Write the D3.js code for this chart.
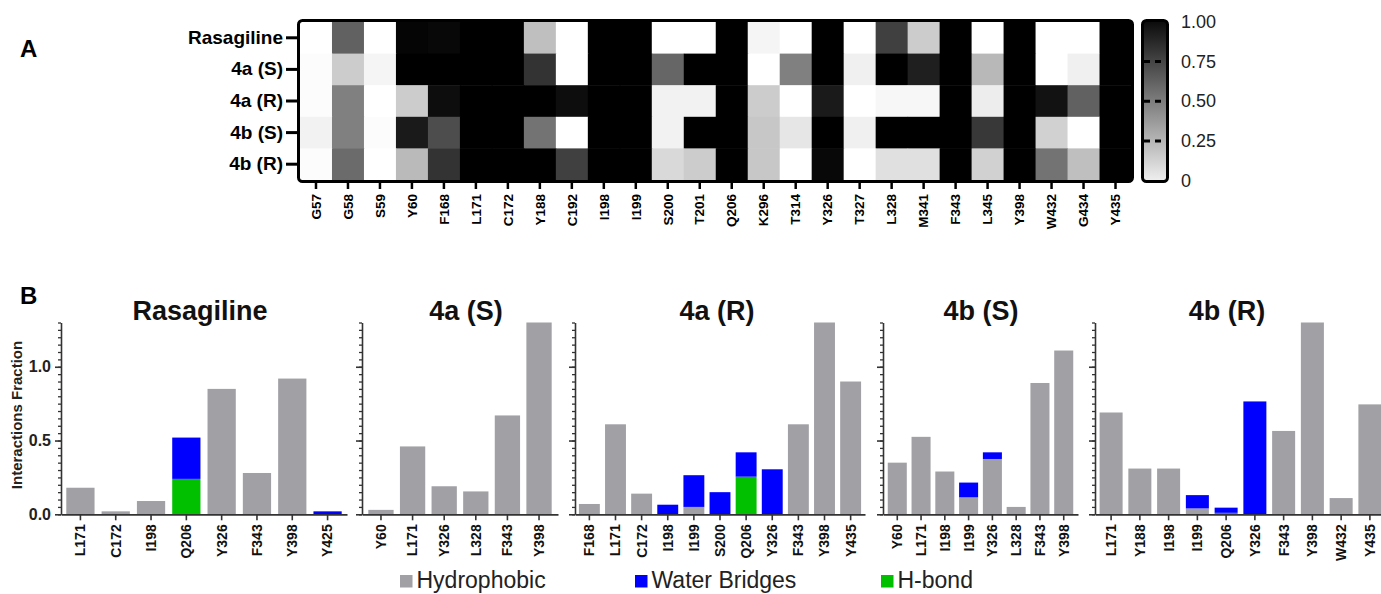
<!DOCTYPE html>
<html>
<head>
<meta charset="utf-8">
<script src="https://cdn.jsdelivr.net/npm/d3@7"></script>
<style>
  html, body { margin: 0; padding: 0; background: #fff; }
  svg { display: block; font-family: "Liberation Sans", Arial, Helvetica, sans-serif; }
</style>
</head>
<body>
<svg id="fig" width="1381" height="594"></svg>
<script>
// ---------- Panel A: interaction fraction heatmap ----------
const residues = ["G57","G58","S59","Y60","F168","L171","C172","Y188","C192","I198","I199",
  "S200","T201","Q206","K296","T314","Y326","T327","L328","M341","F343","L345","Y398","W432","G434","Y435"];
const compounds = ["Rasagiline","4a (S)","4a (R)","4b (S)","4b (R)"];

const heatRasagiline = [0, 0.62, 0, 0.98, 0.97, 1, 1, 0.25, 0, 1, 1, 0, 0, 1, 0.04, 0, 1, 0, 0.75, 0.2, 1, 0, 1, 0, 0, 1];
const heat4aS        = [0.01, 0.2, 0.04, 1, 1, 1, 1, 0.8, 0, 1, 1, 0.6, 1, 1, 0, 0.5, 1, 0.06, 1, 0.88, 1, 0.28, 1, 0, 0.06, 1];
const heat4aR        = [0.01, 0.5, 0, 0.2, 0.95, 1, 1, 1, 0.95, 1, 1, 0.05, 0.05, 1, 0.2, 0, 0.9, 0, 0.03, 0.03, 1, 0.07, 1, 0.93, 0.62, 1];
const heat4bS        = [0.05, 0.5, 0.01, 0.9, 0.7, 1, 1, 0.55, 0, 1, 1, 0.05, 1, 1, 0.22, 0.1, 1, 0.06, 1, 1, 1, 0.78, 1, 0.18, 0, 1];
const heat4bR        = [0.01, 0.58, 0, 0.27, 0.8, 1, 1, 1, 0.75, 1, 1, 0.15, 0.2, 1, 0.22, 0, 0.97, 0, 0.12, 0.12, 1, 0.18, 1, 0.55, 0.25, 1];
const heatRows = [heatRasagiline, heat4aS, heat4aR, heat4bS, heat4bR];

const colorbarTicks = [0, 0.25, 0.5, 0.75, 1];

// ---------- Panel B: interaction fractions per compound ----------
const resRasagiline = ["L171","C172","I198","Q206","Y326","F343","Y398","Y425"];
const hydRasagiline = [0.18, 0.02, 0.09, 0, 0.85, 0.28, 0.92, 0];
const hbRasagiline  = [0, 0, 0, 0.24, 0, 0, 0, 0];
const wbRasagiline  = [0, 0, 0, 0.28, 0, 0, 0, 0.02];

const res4aS = ["Y60","L171","Y326","L328","F343","Y398"];
const hyd4aS = [0.03, 0.46, 0.19, 0.155, 0.67, 1.3];
const hb4aS  = [0, 0, 0, 0, 0, 0];
const wb4aS  = [0, 0, 0, 0, 0, 0];

const res4aR = ["F168","L171","C172","I198","I199","S200","Q206","Y326","F343","Y398","Y435"];
const hyd4aR = [0.07, 0.61, 0.14, 0, 0.05, 0, 0, 0, 0.61, 1.3, 0.9];
const hb4aR  = [0, 0, 0, 0, 0, 0, 0.255, 0, 0, 0, 0];
const wb4aR  = [0, 0, 0, 0.065, 0.215, 0.15, 0.165, 0.305, 0, 0, 0];

const res4bS = ["Y60","L171","I198","I199","Y326","L328","F343","Y398"];
const hyd4bS = [0.35, 0.525, 0.29, 0.115, 0.375, 0.05, 0.89, 1.11];
const hb4bS  = [0, 0, 0, 0, 0, 0, 0, 0];
const wb4bS  = [0, 0, 0, 0.1, 0.045, 0, 0, 0];

const res4bR = ["L171","Y188","I198","I199","Q206","Y326","F343","Y398","W432","Y435"];
const hyd4bR = [0.69, 0.31, 0.31, 0.04, 0, 0, 0.565, 1.3, 0.11, 0.745];
const hb4bR  = [0, 0, 0, 0, 0.01, 0, 0, 0, 0, 0];
const wb4bR  = [0, 0, 0, 0.09, 0.035, 0.765, 0, 0, 0, 0];

const yTicksMajor = [0, 0.5, 1.0];
const legendLabels = ["Hydrophobic", "Water Bridges", "H-bond"];

// ---------- drawing ----------
const svg = d3.select("#fig");
const FONT = '"Liberation Sans", Arial, Helvetica, sans-serif';

svg.append("text").attr("x", 20).attr("y", 57)
  .attr("font-size", 24).attr("font-weight", "bold").text("A");
svg.append("text").attr("x", 20).attr("y", 304)
  .attr("font-size", 24).attr("font-weight", "bold").text("B");

// Heatmap
const hx = d3.scaleBand().domain(residues).range([300, 1131.5]);
const hy = d3.scaleBand().domain(compounds).range([22, 180]);
const grey = d3.scaleLinear().domain([0, 1]).range(["#ffffff", "#000000"]).clamp(true);

const cells = [];
compounds.forEach((c, i) => residues.forEach((r, j) => cells.push({ c, r, v: heatRows[i][j] })));

const gA = svg.append("g");
gA.selectAll("rect.cell").data(cells).join("rect")
  .attr("class", "cell")
  .attr("x", d => hx(d.r)).attr("y", d => hy(d.c))
  .attr("width", hx.bandwidth() + 0.5).attr("height", hy.bandwidth() + 0.5)
  .attr("fill", d => grey(d.v));

gA.append("rect").attr("x", 298.5).attr("y", 20.5).attr("width", 834).attr("height", 161)
  .attr("rx", 4).attr("fill", "none").attr("stroke", "#000").attr("stroke-width", 3);

const hyAxis = gA.append("g").attr("transform", "translate(298,0)")
  .call(d3.axisLeft(hy).tickSize(12).tickPadding(3).tickSizeOuter(0));
hyAxis.select(".domain").remove();
hyAxis.selectAll(".tick line").attr("stroke", "#000").attr("stroke-width", 3);
hyAxis.selectAll(".tick text").attr("font-family", FONT).attr("font-size", 19)
  .attr("font-weight", "bold").attr("fill", "#000");

const hxAxis = gA.append("g").attr("transform", "translate(0,182)")
  .call(d3.axisBottom(hx).tickSize(7).tickPadding(4).tickSizeOuter(0));
hxAxis.select(".domain").remove();
hxAxis.selectAll(".tick line").attr("stroke", "#000").attr("stroke-width", 2.5);
hxAxis.selectAll(".tick text")
  .attr("font-family", FONT).attr("font-size", 13.5).attr("font-weight", "bold").attr("fill", "#000")
  .attr("text-anchor", "end").attr("dy", "0.35em").attr("y", 0)
  .attr("transform", "translate(0,12) rotate(-90)");

// Colour bar
const cbY = d3.scaleLinear().domain([0, 1]).range([180.7, 21.7]);
const defs = svg.append("defs");
const grad = defs.append("linearGradient").attr("id", "cbgrad")
  .attr("x1", 0).attr("y1", 1).attr("x2", 0).attr("y2", 0);
grad.append("stop").attr("offset", "0%").attr("stop-color", "#f0f0f0");
grad.append("stop").attr("offset", "100%").attr("stop-color", grey(0.96));

svg.append("rect").attr("x", 1142.5).attr("y", 20.5).attr("width", 25).attr("height", 161)
  .attr("rx", 4).attr("fill", "url(#cbgrad)").attr("stroke", "#000").attr("stroke-width", 3);

svg.append("g").selectAll("line").data(colorbarTicks.filter(t => t > 0 && t < 1)).join("line")
  .attr("x1", 1144).attr("x2", 1166)
  .attr("y1", d => cbY(d)).attr("y2", d => cbY(d))
  .attr("stroke", "#000").attr("stroke-width", 3).attr("stroke-dasharray", "6,5");

const cbAxis = svg.append("g").attr("transform", "translate(1168,0)")
  .call(d3.axisRight(cbY).tickValues(colorbarTicks).tickSize(0).tickPadding(13)
    .tickFormat(d => d === 0 ? "0" : d3.format(".2f")(d)));
cbAxis.select(".domain").remove();
cbAxis.selectAll(".tick text").attr("font-family", FONT).attr("font-size", 18).attr("fill", "#222");

// Stacked bar panels
const keys = ["hyd", "hb", "wb"];
const fills = { hyd: "#a0a0a5", hb: "#00c000", wb: "#0000ff" };
const panels = [
  { title: "Rasagiline", res: resRasagiline, hyd: hydRasagiline, hb: hbRasagiline, wb: wbRasagiline },
  { title: "4a (S)", res: res4aS, hyd: hyd4aS, hb: hb4aS, wb: wb4aS },
  { title: "4a (R)", res: res4aR, hyd: hyd4aR, hb: hb4aR, wb: wb4aR },
  { title: "4b (S)", res: res4bS, hyd: hyd4bS, hb: hb4bS, wb: wb4bS },
  { title: "4b (R)", res: res4bR, hyd: hyd4bR, hb: hb4bR, wb: wb4bR }
];
const layout = [
  { x0: 61,   x1: 347,  tx: 200,  po: 0.15 },
  { x0: 362,  x1: 558,  tx: 466,  po: 0.2 },
  { x0: 575,  x1: 865,  tx: 717,  po: 0.15 },
  { x0: 883,  x1: 1078, tx: 981,  po: 0.2 },
  { x0: 1095, x1: 1386, tx: 1227, po: 0.16 }
];

const y = d3.scaleLinear().domain([0, 1.3]).range([514.3, 322.5]);
const minorTicks = d3.range(0, 1.3001, 0.05);

panels.forEach((p, i) => {
  const L = layout[i];
  const g = svg.append("g");
  const x = d3.scaleBand().domain(p.res).range([L.x0, L.x1]).paddingInner(0.2).paddingOuter(L.po);
  const rows = p.res.map((r, k) => ({ res: r, hyd: p.hyd[k], hb: p.hb[k], wb: p.wb[k] }));
  const series = d3.stack().keys(keys)(rows);

  g.selectAll("g.layer").data(series).join("g").attr("class", "layer")
    .attr("fill", s => fills[s.key])
    .selectAll("rect").data(s => s.filter(d => d[1] - d[0] > 0)).join("rect")
    .attr("x", d => x(d.data.res)).attr("width", x.bandwidth())
    .attr("y", d => y(d[1])).attr("height", d => y(d[0]) - y(d[1]));

  // minor ticks
  const minor = g.append("g").attr("transform", `translate(${L.x0},0)`)
    .call(d3.axisLeft(y).tickValues(minorTicks).tickSize(3).tickFormat(""));
  minor.select(".domain").remove();
  minor.selectAll("line").attr("stroke", "#333").attr("stroke-width", 1.3);

  // major ticks and axis line
  const major = g.append("g").attr("transform", `translate(${L.x0},0)`)
    .call(d3.axisLeft(y).tickValues(yTicksMajor).tickSize(6).tickSizeOuter(0).tickPadding(4)
      .tickFormat(i === 0 ? d3.format(".1f") : ""));
  major.select(".domain").attr("stroke", "#333").attr("stroke-width", 1.6);
  major.selectAll(".tick line").attr("stroke", "#333").attr("stroke-width", 1.6);
  major.selectAll(".tick text").attr("font-family", FONT).attr("font-size", 16)
    .attr("font-weight", "bold").attr("fill", "#222");

  const xa = g.append("g").attr("transform", `translate(0,${y(0)})`)
    .call(d3.axisBottom(x).tickSize(6).tickSizeOuter(0));
  xa.select(".domain").attr("stroke", "#333").attr("stroke-width", 1.8);
  xa.selectAll(".tick line").attr("stroke", "#333").attr("stroke-width", 1.6);
  xa.selectAll(".tick text")
    .attr("font-family", FONT).attr("font-size", 14).attr("font-weight", "bold").attr("fill", "#111")
    .attr("text-anchor", "end").attr("dy", "0.35em").attr("y", 0)
    .attr("transform", "translate(0,10) rotate(-90)");

  g.append("text").attr("x", L.tx).attr("y", 320).attr("text-anchor", "middle")
    .attr("font-size", 27).attr("font-weight", "bold").attr("fill", "#111").text(p.title);
});

svg.append("text").attr("transform", "translate(22,415) rotate(-90)")
  .attr("text-anchor", "middle").attr("font-size", 15).attr("font-weight", "bold")
  .attr("fill", "#222").text("Interactions Fraction");

// Legend
const legendPos = [400, 635, 881];
const legendKeys = ["hyd", "wb", "hb"];
const lg = svg.append("g");
legendLabels.forEach((lab, k) => {
  lg.append("rect").attr("x", legendPos[k]).attr("y", 575).attr("width", 12.5).attr("height", 12.5)
    .attr("fill", fills[legendKeys[k]]);
  lg.append("text").attr("x", legendPos[k] + 16.5).attr("y", 588)
    .attr("font-size", 23).attr("fill", "#222").text(lab);
});
</script>
</body>
</html>
